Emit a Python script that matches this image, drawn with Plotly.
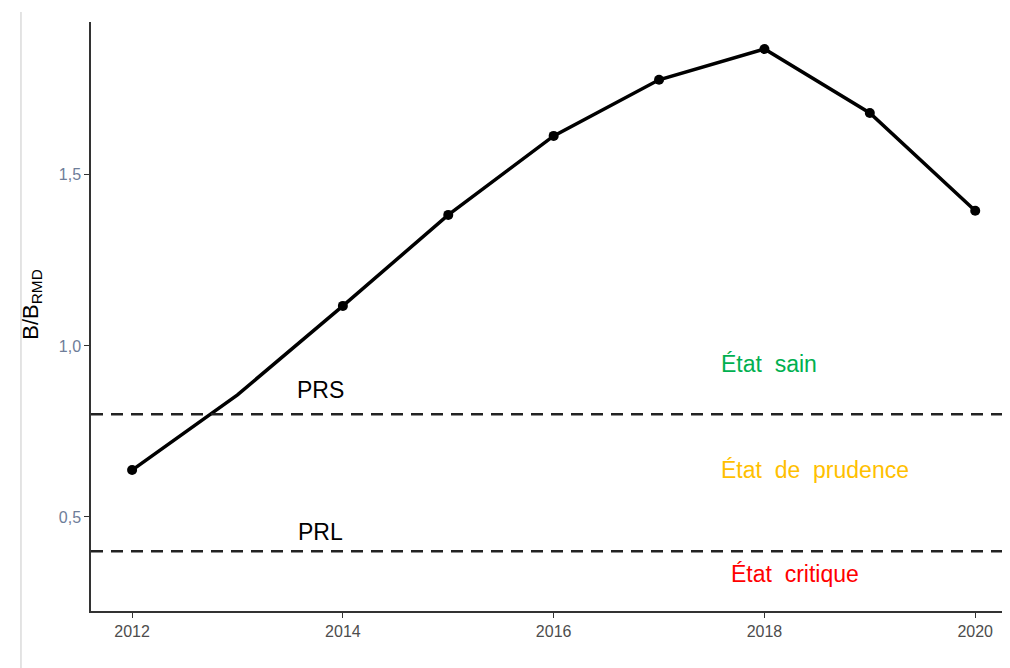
import plotly.graph_objects as go

years = [2012, 2013, 2014, 2015, 2016, 2017, 2018, 2019, 2020]
b_ratio = [0.637, 0.857, 1.117, 1.383, 1.614, 1.778, 1.868, 1.681, 1.395]
show_marker = [True, False, True, True, True, True, True, True, True]

prs = 0.8
prl = 0.4

ytick_vals = [0.5, 1.0, 1.5]
ytick_text = ["0,5", "1,0", "1,5"]
xtick_vals = [2012, 2014, 2016, 2018, 2020]

zone_labels = ["État  sain", "État  de  prudence", "État  critique"]
zone_x = [2018.04, 2018.48, 2018.29]
zone_y = [0.947, 0.637, 0.333]
zone_colors = ["#00b050", "#ffc000", "#ff0000"]

ref_labels = ["PRS", "PRL"]
ref_x = [2013.79, 2013.79]
ref_y = [0.871, 0.456]

fig = go.Figure()
fig.add_trace(go.Scatter(
    x=years, y=b_ratio, mode="lines",
    line=dict(color="black", width=3.5),
    showlegend=False, hoverinfo="skip",
))
fig.add_trace(go.Scatter(
    x=[x for x, s in zip(years, show_marker) if s],
    y=[y for y, s in zip(b_ratio, show_marker) if s],
    mode="markers",
    marker=dict(color="#000000", size=10, opacity=1, line=dict(width=0)),
    showlegend=False, hoverinfo="x+y",
))

for v in [prs, prl]:
    fig.add_shape(type="line", xref="paper", x0=0, x1=1, yref="y", y0=v, y1=v,
                  line=dict(color="#222222", width=2.5, dash="12px,8px"))

# thin border line at far left
fig.add_shape(type="line", xref="paper", x0=-0.0762, x1=-0.0762, yref="paper",
              y0=-0.0968, y1=1.017, line=dict(color="#c8c8c8", width=1))

for t, x, y in zip(ref_labels, ref_x, ref_y):
    fig.add_annotation(x=x, y=y, text=t, showarrow=False,
                       font=dict(family="Arial, Liberation Sans", size=23, color="black"))
for t, x, y, c in zip(zone_labels, zone_x, zone_y, zone_colors):
    fig.add_annotation(x=x, y=y, text=t, showarrow=False,
                       font=dict(family="Arial, Liberation Sans", size=23, color=c))

fig.add_annotation(xref="paper", yref="paper", x=-0.082, y=0.521,
                   text="B/B<sub>RMD</sub>", textangle=-90, showarrow=False,
                   font=dict(family="Arial, Liberation Sans", size=22, color="black"))

tick_family = "Liberation Sans Narrow, Arial Narrow, Liberation Sans, Arial"

fig.update_layout(
    width=1010, height=668,
    margin=dict(l=83, r=8, t=14, b=65),
    paper_bgcolor="white", plot_bgcolor="white",
    font=dict(family="Arial, Liberation Sans"),
    xaxis=dict(range=[2011.61, 2020.33], tickvals=xtick_vals,
               showgrid=False, zeroline=False, showline=True, linecolor="#333333", linewidth=1.5,
               ticks="outside", ticklen=5, tickcolor="#333333",
               tickfont=dict(family=tick_family, size=16, color="#4d4d4d")),
    yaxis=dict(range=[0.225, 1.947], tickvals=ytick_vals, ticktext=ytick_text,
               showgrid=False, zeroline=False, showline=True, linecolor="#333333", linewidth=1.5,
               ticks="outside", ticklen=5, tickcolor="#333333",
               tickfont=dict(family=tick_family, size=16, color="#6e7d99")),
)

fig.write_html("out.html")
